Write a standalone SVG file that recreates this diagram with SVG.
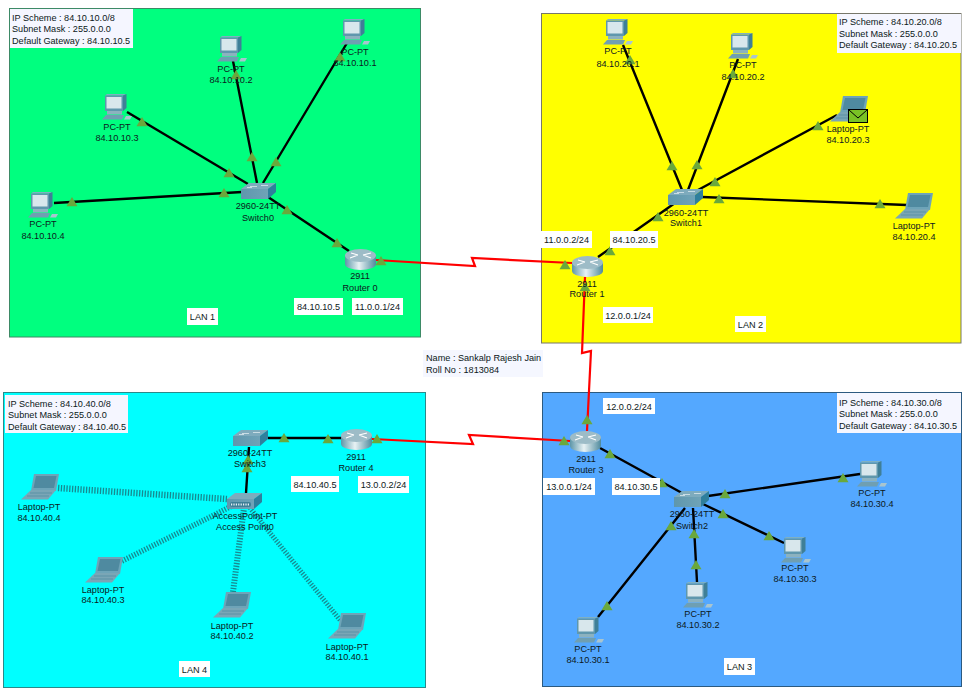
<svg xmlns="http://www.w3.org/2000/svg" xmlns:xlink="http://www.w3.org/1999/xlink" width="965" height="692" viewBox="0 0 965 692">
<style>
text{font-family:"Liberation Sans",Arial,sans-serif;font-size:9.15px;fill:#0c1820}
.m{text-anchor:middle}
.note{fill:#ffffff}
.info{fill:#f5f6ff}
.wire{stroke:#000;stroke-width:2.400;fill:none}
.serial{stroke:#ff0000;stroke-width:2.200;fill:none}
.air{stroke:#178a90;fill:none;stroke-dasharray:1.300 1.500}
.lan{stroke-width:1}
</style>
<defs>
<linearGradient id="cyl" x1="0" x2="1" y1="0" y2="0"><stop offset="0" stop-color="#5d96a8"/><stop offset=".45" stop-color="#e8f2f4"/><stop offset="1" stop-color="#4f8a9d"/></linearGradient>
<linearGradient id="front" x1="0" x2="1" y1="0" y2="0"><stop offset="0" stop-color="#5f97ad"/><stop offset="1" stop-color="#6fa3b7"/></linearGradient>
<symbol id="pc" width="30" height="26" viewBox="0 0 30 26" overflow="visible">
<polygon points="3,1.500 5,0 24.500,0 21,1.500" fill="#7eb0c2"/>
<polygon points="21,1.500 24.500,0 24.500,14 21,17" fill="#3f7f97"/>
<rect x="3" y="1.500" width="18" height="15.500" fill="#5f97ad"/>
<rect x="4.500" y="3" width="15" height="11.500" fill="#d8e7ec"/>
<rect x="5" y="17" width="15" height="3.500" fill="#8cb2bf"/>
<polygon points="0,25.500 4,21 22,21 20,25.500" fill="#6f9fb2"/>
<polygon points="24,22 30,22 28,25.500 22,25.500" fill="#a9c5cf"/>
</symbol>
<symbol id="laptop" width="38" height="26" viewBox="0 0 38 26" overflow="visible">
<polygon points="13,0 38,0 35,17 10,17" fill="#6ea4b8"/>
<polygon points="15,2 35.500,2 33,14 12.500,14" fill="#4f8aa0"/>
<polygon points="10,16 35,16 27,25.500 0,25.500" fill="#7aa6b6"/>
<path d="M9 19H31M6 22H28" stroke="#5a92a6" stroke-width="1" fill="none"/>
</symbol>
<symbol id="switch" width="35" height="16" viewBox="0 0 35 16" overflow="visible">
<polygon points="0,6 8,0 35,0 27,6" fill="#7eabbd"/>
<polygon points="27,6 35,0 35,9 27,16" fill="#2f7f9c"/>
<rect x="0" y="6" width="27" height="10" fill="url(#front)"/>
<path d="M9 3.500H16M20 2.500H27M6 4.500H11" stroke="#dbe9ee" stroke-width=".8" fill="none"/>
</symbol>
<symbol id="ap" width="35" height="16" viewBox="0 0 35 16" overflow="visible">
<polygon points="0,6 8,0 35,0 27,6" fill="#7eabbd"/>
<polygon points="27,6 35,0 35,9 27,16" fill="#2f7f9c"/>
<rect x="0" y="6" width="27" height="10" fill="url(#front)"/>
<rect x="3" y="9" width="21" height="5" rx="2" fill="#3f7f97"/>
<path d="M4 11.500H23" stroke="#e6f0f3" stroke-width="2" stroke-dasharray="1.200 1.200" fill="none"/>
</symbol>
<symbol id="router" width="31" height="21" viewBox="0 0 31 21" overflow="visible">
<path d="M0 6.500V15A15.500 6 0 0 0 31 15V6.500Z" fill="url(#cyl)"/>
<ellipse cx="15.500" cy="6.500" rx="15.500" ry="6.500" fill="#9dbcc7"/>
<path d="M5 9L13 6M18 6L26 4M6 4L13 6M18 6L26 9" stroke="#fff" stroke-width="1.100" fill="none"/>
</symbol>
<polygon id="t" points="0,-5 5.500,4.200 -5.500,4.200" fill="#6aa83c"/>
</defs>

<rect width="965" height="692" fill="#ffffff"/>

<g id="areas">
<rect class="lan" x="9.500" y="8.500" width="411" height="328.500" fill="#00ff7f" stroke="#3d8a66"/>
<rect class="lan" x="541.500" y="13.500" width="419.500" height="329.500" fill="#ffff00" stroke="#77776a"/>
<rect class="lan" x="3.500" y="392.500" width="422" height="295" fill="#00ffff" stroke="#2a8a8a"/>
<rect class="lan" x="542.500" y="392.500" width="419" height="294" fill="#54a8ff" stroke="#2c5a80"/>
</g>

<g id="connectors">
<path class="wire" d="M347 43L263 183M233 61L257 183M127 112L248 184M54 203L242 192M268 197L349 251"/>
<path class="wire" d="M623 45L682 190M738 59L688 190M837 115L698 190M907 205L702 197M598 257L675 203"/>
<path class="wire" d="M600 448L682 493M860 474L708 496M784 543L703 504M697 582L693 508M598 617L685 508"/>
<path class="wire" d="M268 438H342M249 447L246 493"/>
<path class="serial" d="M376 260L475 266L472 258L572 263"/>
<path class="serial" d="M585 277L582 353L591 351L587 431"/>
<path class="serial" d="M372 439L473 444L469 435L570 441"/>
<path class="air" stroke-width="6.500" d="M58 488L227 499"/>
<path class="air" stroke-width="5.500" d="M122 561L232 506"/>
<path class="air" stroke-width="6" d="M233 592L244 508"/>
<path class="air" stroke-width="5" d="M340 620L250 508"/>
<g id="link-markers">
<use href="#t" x="72" y="202"/><use href="#t" x="224" y="193"/><use href="#t" x="142" y="122"/><use href="#t" x="229" y="173"/>
<use href="#t" x="252" y="157"/><use href="#t" x="236" y="75"/><use href="#t" x="276" y="162"/><use href="#t" x="340" y="57"/>
<use href="#t" x="287" y="210"/><use href="#t" x="337" y="243"/><use href="#t" x="381" y="261"/>
<use href="#t" x="630" y="60"/><use href="#t" x="672" y="166"/><use href="#t" x="733" y="74"/><use href="#t" x="697" y="165"/>
<use href="#t" x="818" y="126"/><use href="#t" x="715" y="182"/><use href="#t" x="719" y="199"/><use href="#t" x="880" y="204"/>
<use href="#t" x="658" y="217"/><use href="#t" x="610" y="251"/><use href="#t" x="565" y="265"/><use href="#t" x="585" y="287"/>
<use href="#t" x="610" y="454"/><use href="#t" x="662" y="483"/><use href="#t" x="725" y="494"/><use href="#t" x="843" y="478"/>
<use href="#t" x="723" y="514"/><use href="#t" x="769" y="536"/><use href="#t" x="694" y="534"/><use href="#t" x="696" y="565"/>
<use href="#t" x="671" y="526"/><use href="#t" x="607" y="606"/><use href="#t" x="587" y="420"/><use href="#t" x="564" y="441"/>
<use href="#t" x="284" y="438"/><use href="#t" x="328" y="439"/><use href="#t" x="377" y="439"/><use href="#t" x="248" y="460"/><use href="#t" x="247" y="468"/>
</g>
</g>

<g id="pc-10-1"><use href="#pc" x="340" y="19"/><text class="m" x="355" y="54.500">PC-PT</text><text class="m" x="355" y="65.500">84.10.10.1</text></g>
<g id="pc-10-2"><use href="#pc" x="217" y="36"/><text class="m" x="231" y="71.500">PC-PT</text><text class="m" x="231" y="82.500">84.10.10.2</text></g>
<g id="pc-10-3"><use href="#pc" x="102" y="94"/><text class="m" x="117" y="129.500">PC-PT</text><text class="m" x="117" y="140.500">84.10.10.3</text></g>
<g id="pc-10-4"><use href="#pc" x="28" y="192"/><text class="m" x="43" y="226.500">PC-PT</text><text class="m" x="43" y="238.500">84.10.10.4</text></g>
<g id="switch0"><use href="#switch" x="241" y="183"/><text class="m" x="258" y="208.500">2960-24TT</text><text class="m" x="258" y="220.500">Switch0</text></g>
<g id="router0"><use href="#router" x="345" y="249"/><text class="m" x="360" y="278.500">2911</text><text class="m" x="360" y="290.500">Router 0</text></g>

<g id="pc-20-1"><use href="#pc" x="603" y="19"/><text class="m" x="618" y="53.500">PC-PT</text><text class="m" x="618" y="66.500">84.10.20.1</text></g>
<g id="pc-20-2"><use href="#pc" x="728" y="33"/><text class="m" x="743" y="67.500">PC-PT</text><text class="m" x="743" y="79.500">84.10.20.2</text></g>
<g id="laptop-20-3"><use href="#laptop" x="830" y="96"/>
<rect x="848.500" y="109.500" width="19" height="13" fill="#7ac225" stroke="#000" stroke-width="1"/><path d="M849 110L858 118L867 110" fill="none" stroke="#000" stroke-width="1"/>
<text class="m" x="848" y="131.500">Laptop-PT</text><text class="m" x="848" y="142.500">84.10.20.3</text></g>
<g id="laptop-20-4"><use href="#laptop" x="895" y="193"/><text class="m" x="914" y="228.500">Laptop-PT</text><text class="m" x="914" y="239.500">84.10.20.4</text></g>
<g id="switch1"><use href="#switch" x="668" y="189"/><text class="m" x="686" y="215.500">2960-24TT</text><text class="m" x="686" y="225.500">Switch1</text></g>
<g id="router1"><use href="#router" x="572" y="256"/><text class="m" x="587" y="286.500">2911</text><text class="m" x="587" y="296.500">Router 1</text></g>

<g id="pc-30-1"><use href="#pc" x="574" y="617"/><text class="m" x="588" y="651.500">PC-PT</text><text class="m" x="588" y="662.500">84.10.30.1</text></g>
<g id="pc-30-2"><use href="#pc" x="683" y="582"/><text class="m" x="698" y="616.500">PC-PT</text><text class="m" x="698" y="627.500">84.10.30.2</text></g>
<g id="pc-30-3"><use href="#pc" x="781" y="537"/><text class="m" x="795" y="570.500">PC-PT</text><text class="m" x="795" y="581.500">84.10.30.3</text></g>
<g id="pc-30-4"><use href="#pc" x="857" y="461"/><text class="m" x="872" y="495.500">PC-PT</text><text class="m" x="872" y="506.500">84.10.30.4</text></g>
<g id="switch2"><use href="#switch" x="674" y="491"/><text class="m" x="692" y="516.500">2960-24TT</text><text class="m" x="692" y="528.500">Switch2</text></g>
<g id="router3"><use href="#router" x="570" y="431"/><text class="m" x="586" y="461.500">2911</text><text class="m" x="586" y="472.500">Router 3</text></g>

<g id="laptop-40-1"><use href="#laptop" x="328" y="613"/><text class="m" x="347" y="649.500">Laptop-PT</text><text class="m" x="347" y="659.500">84.10.40.1</text></g>
<g id="laptop-40-2"><use href="#laptop" x="213" y="592"/><text class="m" x="232" y="628.500">Laptop-PT</text><text class="m" x="232" y="638.500">84.10.40.2</text></g>
<g id="laptop-40-3"><use href="#laptop" x="85" y="557"/><text class="m" x="103" y="592.500">Laptop-PT</text><text class="m" x="103" y="602.500">84.10.40.3</text></g>
<g id="laptop-40-4"><use href="#laptop" x="21" y="474"/><text class="m" x="39" y="509.500">Laptop-PT</text><text class="m" x="39" y="520.500">84.10.40.4</text></g>
<g id="access-point0"><use href="#ap" x="227" y="493"/><text class="m" x="245" y="518.500">AccessPoint-PT</text><text class="m" x="245" y="529.500">Access Point0</text></g>
<g id="switch3"><use href="#switch" x="233" y="430"/><text class="m" x="250" y="455.500">2960-24TT</text><text class="m" x="250" y="466.500">Switch3</text></g>
<g id="router4"><use href="#router" x="341" y="429"/><text class="m" x="356" y="459.500">2911</text><text class="m" x="356" y="470.500">Router 4</text></g>

<g id="notes">
<g id="info-lan1"><rect class="info" x="10" y="9" width="123" height="39"/><text x="12" y="21">IP Scheme : 84.10.10.0/8</text><text x="12" y="32">Subnet Mask : 255.0.0.0</text><text x="12" y="44">Default Gateway : 84.10.10.5</text></g>
<g id="info-lan2"><rect class="info" x="837" y="14" width="124" height="39"/><text x="839" y="25">IP Scheme : 84.10.20.0/8</text><text x="839" y="37">Subnet Mask : 255.0.0.0</text><text x="839" y="48">Default Gateway : 84.10.20.5</text></g>
<g id="info-lan3"><rect class="info" x="837" y="393" width="124" height="40"/><text x="839" y="405.500">IP Scheme : 84.10.30.0/8</text><text x="839" y="417">Subnet Mask : 255.0.0.0</text><text x="839" y="428.500">Default Gateway : 84.10.30.5</text></g>
<g id="info-lan4"><rect class="info" x="5" y="395" width="123" height="38"/><text x="8" y="406.500">IP Scheme : 84.10.40.0/8</text><text x="8" y="417.500">Subnet Mask : 255.0.0.0</text><text x="8" y="429.500">Default Gateway : 84.10.40.5</text></g>
<g id="student"><rect x="423" y="350" width="120" height="27" fill="#f5f7ff"/><text x="426" y="361">Name : Sankalp Rajesh Jain</text><text x="426" y="372.500">Roll No : 1813084</text></g>

<g><rect class="note" x="294" y="298" width="49" height="17"/><text class="m" x="318.500" y="310">84.10.10.5</text></g>
<g><rect class="note" x="352" y="298" width="51" height="17"/><text class="m" x="377.500" y="310">11.0.0.1/24</text></g>
<g><rect class="note" x="187" y="308" width="31" height="17"/><text class="m" x="202.500" y="320">LAN 1</text></g>

<g><rect class="note" x="541" y="231" width="51" height="17"/><text class="m" x="566.500" y="243">11.0.0.2/24</text></g>
<g><rect class="note" x="610" y="231" width="48" height="17"/><text class="m" x="634" y="243">84.10.20.5</text></g>
<g><rect class="note" x="603" y="307" width="50" height="16"/><text class="m" x="628" y="319">12.0.0.1/24</text></g>
<g><rect class="note" x="735" y="316" width="31" height="16"/><text class="m" x="750.500" y="327.500">LAN 2</text></g>

<g><rect class="note" x="603" y="398" width="52" height="16"/><text class="m" x="629" y="409.500">12.0.0.2/24</text></g>
<g><rect class="note" x="543" y="478" width="52" height="17"/><text class="m" x="569" y="490">13.0.0.1/24</text></g>
<g><rect class="note" x="612" y="478" width="48" height="17"/><text class="m" x="636" y="490">84.10.30.5</text></g>
<g><rect class="note" x="724" y="658" width="31" height="17"/><text class="m" x="739.500" y="670">LAN 3</text></g>

<g><rect class="note" x="291" y="476" width="48" height="16"/><text class="m" x="315" y="487.500">84.10.40.5</text></g>
<g><rect class="note" x="358" y="476" width="51" height="17"/><text class="m" x="383.500" y="488">13.0.0.2/24</text></g>
<g><rect class="note" x="179" y="661" width="31" height="16"/><text class="m" x="194.500" y="672.500">LAN 4</text></g>
</g>
</svg>
